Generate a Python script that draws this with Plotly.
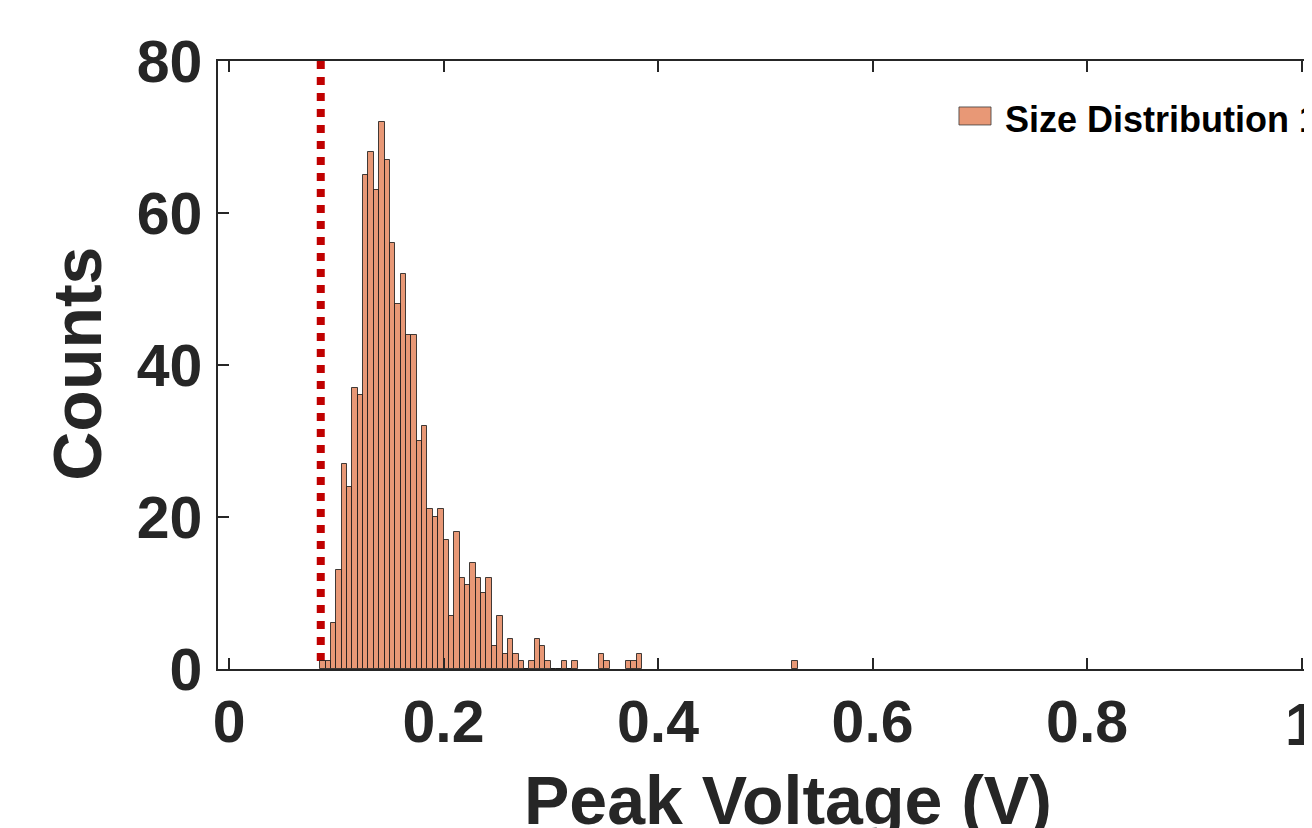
import plotly.graph_objects as go

# Histogram bins (left edges, V) and counts, bin width 0.005 V
bin_left = [0.085, 0.090, 0.095, 0.100, 0.105, 0.110, 0.115, 0.120, 0.125, 0.130,
            0.135, 0.140, 0.145, 0.150, 0.155, 0.160, 0.165, 0.170, 0.175, 0.180,
            0.185, 0.190, 0.195, 0.200, 0.205, 0.210, 0.215, 0.220, 0.225, 0.230,
            0.235, 0.240, 0.245, 0.250, 0.255, 0.260, 0.265, 0.270, 0.275, 0.280,
            0.285, 0.290, 0.295, 0.300, 0.305, 0.310, 0.315, 0.320, 0.345, 0.350,
            0.370, 0.375, 0.380, 0.525]
counts = [1, 1, 6, 13, 27, 24, 37, 36, 65, 68,
          63, 72, 67, 56, 48, 52, 44, 44, 30, 32,
          21, 20, 21, 17, 7, 18, 12, 11, 14, 12,
          10, 12, 3, 7, 2, 4, 2, 1, 0, 1,
          4, 3, 1, 0, 0, 1, 0, 1, 2, 1,
          1, 1, 2, 1]
bin_width = 0.005
threshold_v = 0.0855

x_tickvals = [0, 0.2, 0.4, 0.6, 0.8, 1.0]
x_ticktext = ["0", "0.2", "0.4", "0.6", "0.8", "1"]
y_tickvals = [0, 20, 40, 60, 80]
legend_label = "Size Distribution 1"

TXT = "#262626"
FONT = "Liberation Sans"
BAR_FILL = "rgb(232,152,118)"
TICKFONT = dict(family=FONT, size=59, color=TXT, weight="bold")

fig = go.Figure()
fig.add_trace(go.Bar(
    x=bin_left, y=counts, width=bin_width, offset=0,
    marker=dict(color=BAR_FILL, line=dict(color="rgba(20,20,20,0.8)", width=1)),
    name=legend_label, showlegend=False,
))

fig.add_shape(type="line", xref="x", yref="y", x0=threshold_v, x1=threshold_v,
              y0=80, y1=0, layer="below",
              line=dict(color="#c00000", width=8, dash="dot"))

# legend swatch + label
fig.add_shape(type="rect", xref="paper", yref="paper",
              x0=0.6773, x1=0.7066, y0=0.8948, y1=0.9244,
              fillcolor=BAR_FILL, line=dict(color="rgba(60,60,60,0.8)", width=1))
fig.add_annotation(text=legend_label, xref="paper", yref="paper",
                   x=0.7176, y=0.9046, xanchor="left", yanchor="middle",
                   showarrow=False,
                   font=dict(family=FONT, size=36, color="black", weight="bold"))

fig.add_annotation(text="Counts", xref="paper", yref="paper",
                   x=-0.1289, y=0.502, xanchor="center", yanchor="middle",
                   textangle=-90, showarrow=False,
                   font=dict(family=FONT, size=68, color=TXT, weight="bold"))
fig.add_annotation(text="Peak Voltage (V)", xref="paper", yref="paper",
                   x=0.521, y=-0.2150, xanchor="center", yanchor="middle",
                   showarrow=False,
                   font=dict(family=FONT, size=68, color=TXT, weight="bold"))

# the last x tick label sits at the figure edge (partly cut off, as in the original);
# drawn as an annotation so it does not alter the plot margins
shown_ticktext = x_ticktext[:-1] + [""]
fig.add_annotation(text=x_ticktext[-1], xref="x", yref="paper",
                   x=x_tickvals[-1], y=-0.0916, xanchor="center", yanchor="middle",
                   showarrow=False, font=TICKFONT)

fig.update_layout(
    width=1304, height=820,
    margin=dict(l=210, r=0, t=53, b=159),
    paper_bgcolor="white", plot_bgcolor="white",
    bargap=0,
    xaxis=dict(range=[-0.0103, 1.0097], tickvals=x_tickvals, ticktext=shown_ticktext,
               ticks="inside", ticklen=11, tickwidth=1.5, tickcolor=TXT,
               showline=True, linecolor=TXT, linewidth=1.5, mirror="ticks",
               showgrid=False, zeroline=False,
               tickfont=TICKFONT),
    yaxis=dict(range=[0, 80], tickvals=y_tickvals,
               ticks="inside", ticklen=11, tickwidth=1.5, tickcolor=TXT,
               showline=True, linecolor=TXT, linewidth=1.5, mirror=False,
               showgrid=False, zeroline=False, ticklabelstandoff=2,
               tickfont=TICKFONT),
)

fig.write_html("out.html")
